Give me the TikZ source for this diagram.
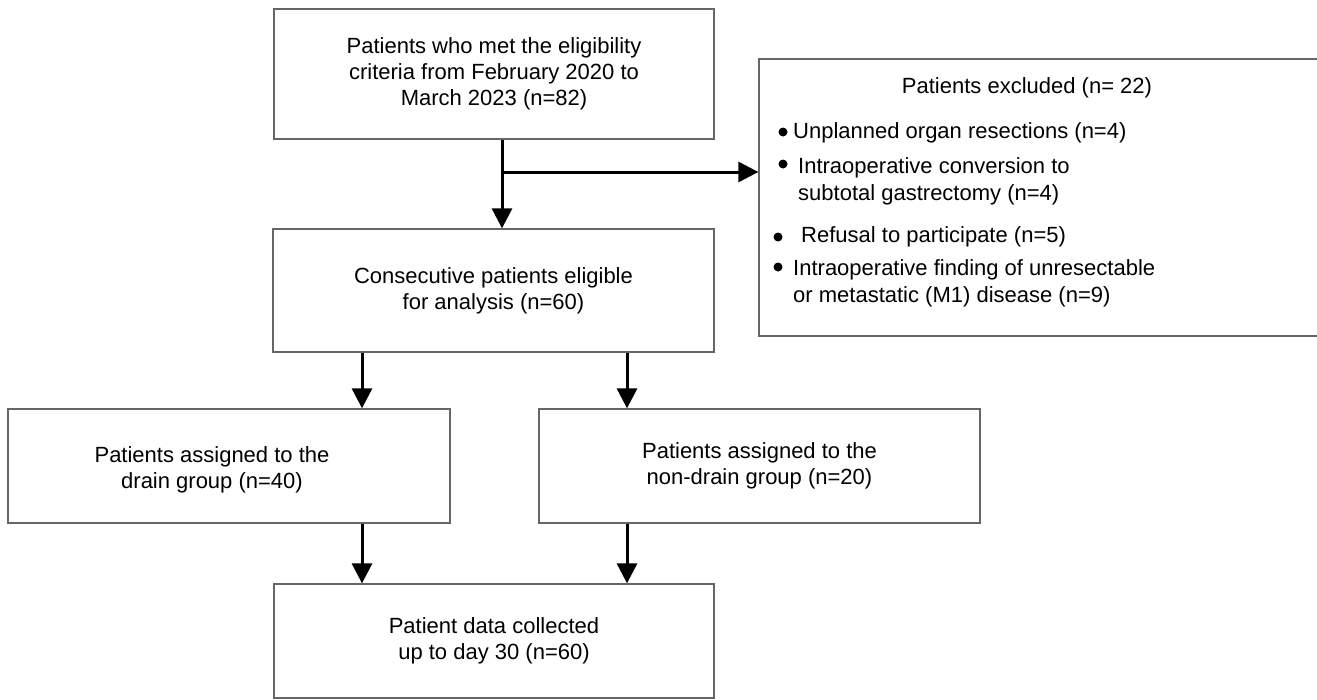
\documentclass[tikz,border=0pt]{standalone}
\usepackage{fontspec}
\setmainfont{Liberation Sans}
\usetikzlibrary{arrows.meta}

\begin{document}
\begin{tikzpicture}[x=1pt, y=-1pt,
  box/.style={draw=black!60, line width=1.3pt, inner sep=0pt, align=center, font=\fontsize{22}{26}\selectfont},
  boxtext/.style={inner sep=0pt, align=center, font=\fontsize{22}{26}\selectfont},
  extext/.style={inner sep=0pt, anchor=base west, font=\fontsize{22}{26}\selectfont},
  arr/.style={line width=3pt, -{Triangle[length=20pt, width=20pt]}}]
\useasboundingbox (0,0) rectangle (1317,699);
% boxes of the flow
\node[box, minimum width=440pt, minimum height=130pt] (elig) at (494,74) {Patients who met the eligibility\\criteria from February 2020 to\\March 2023 (n=82)};
\node[box, minimum width=441pt, minimum height=123pt] (cons) at (493.5,290.5) {Consecutive patients eligible\\for analysis (n=60)};
\node[box, minimum width=442pt, minimum height=114pt] (drain) at (229,466) {};
\node[boxtext] at ([xshift=-17pt, yshift=-4pt]drain.center) {Patients assigned to the\\drain group (n=40)};
\node[box, minimum width=441pt, minimum height=114pt] (nodrain) at (759.5,466) {Patients assigned to the\\non-drain group (n=20)};
\node[box, minimum width=440pt, minimum height=114pt] (final) at (494,641) {Patient data collected\\up to day 30 (n=60)};
% excluded patients
\node[box, minimum width=580pt, minimum height=277pt] (excl) at (1049,197.5) {};
\node[extext, anchor=base] (exhead) at (1027,93) {Patients excluded (n= 22)};
\node[extext] (ex1) at (793,138) {Unplanned organ resections (n=4)};
\node[extext] (ex2) at (798,173) {Intraoperative conversion to};
\node[extext] (ex2b) at (798,200) {subtotal gastrectomy (n=4)};
\node[extext] (ex3) at (801,242) {Refusal to participate (n=5)};
\node[extext] (ex4) at (793,275) {Intraoperative finding of unresectable};
\node[extext] (ex4b) at (793,302) {or metastatic (M1) disease (n=9)};
\fill (783,132) circle[radius=4.5pt];
\fill (783,164) circle[radius=4.5pt];
\fill (778,237) circle[radius=4.5pt];
\fill (778,267) circle[radius=4.5pt];
% connectors
\coordinate (split) at (502,172);
\coordinate (la) at (362,0);
\coordinate (ra) at (627,0);
\draw[line width=3pt] (elig.south -| split) -- (split);
\draw[arr] (split) -- (cons.north -| split);
\draw[arr] (split) -- (excl.west |- split);
\draw[arr] (cons.south -| la) -- (drain.north -| la);
\draw[arr] (cons.south -| ra) -- (nodrain.north -| ra);
\draw[arr] (drain.south -| la) -- (final.north -| la);
\draw[arr] (nodrain.south -| ra) -- (final.north -| ra);
\end{tikzpicture}
\end{document}
